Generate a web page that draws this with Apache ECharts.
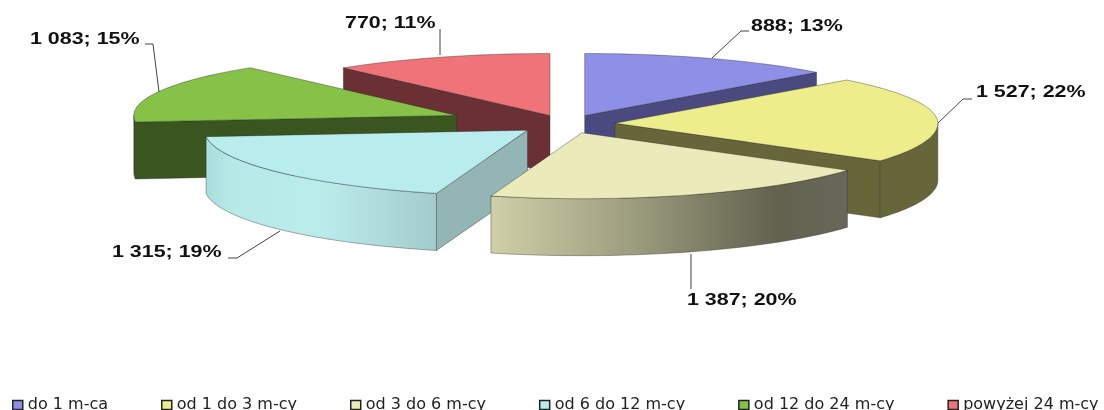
<!DOCTYPE html>
<html>
<head>
<meta charset="utf-8">
<script src="https://cdn.jsdelivr.net/npm/echarts@6/dist/echarts.min.js"></script>
<style>html,body{margin:0;padding:0;background:#fff}#c{width:1104px;height:410px}</style>
</head>
<body>
<div id="c"></div>
<script>
var categories = ['do 1 m-ca','od 1 do 3 m-cy','od 3 do 6 m-cy','od 6 do 12 m-cy','od 12 do 24 m-cy','powyżej 24 m-cy'];
var values = [888,1527,1387,1315,1083,770];
var percentLabels = ['13%','22%','20%','19%','15%','11%'];

var topColors = ['#8e90e8','#eded8c','#eaeabb','#b9ecec','#86c148','#f07379'];
var faceColors = ['#4a4a80','#66663a','#66663a','#93b5b5','#3b5520','#6a3033'];
var explode = [48,49,48,50,118,47];
var drawOrder = [5,0,4,1,3,2];
var labelLayout = [
  {x:751,y:26,line:[[712,58],[741,31],[749,31]]},
  {x:976,y:92,line:[[938,123],[963,99],[972,99]]},
  {x:687,y:300,line:[[691,254],[691,289]]},
  {x:112,y:252,line:[[280,231],[237,258],[228,258]]},
  {x:30,y:39,line:[[159,92],[153,44],[145,44]]},
  {x:345,y:23,line:[[440,55],[440,29]]}
];

var CX=566, CY=124, RX=323, RY_BACK=62, RY_FRONT=66, DEPTH=57, K=RY_BACK/RX, TEXT_SCALE=1.26;
var total = values.reduce(function(a,b){return a+b;},0);
var rad = Math.PI/180;
var starts = [], acc = 0;
values.forEach(function(v){ starts.push(acc); acc += v/total*360; });

function fmt(v){ return String(v).replace(/\B(?=(\d{3})+$)/g,' '); }
function apexOf(i,v){
  var mid = starts[i] + v/total*180;
  return [CX + explode[i]*Math.sin(mid*rad), CY - explode[i]*K*Math.cos(mid*rad)];
}
function pt(a,th,dy){
  var c = Math.cos(th*rad);
  return [a[0]+RX*Math.sin(th*rad), a[1]-(c>0?RY_BACK:RY_FRONT)*c+(dy||0)];
}
function arc(a,t1,t2,dy){
  var out=[], n=Math.max(2,Math.ceil(Math.abs(t2-t1)/2));
  for(var j=0;j<=n;j++) out.push(pt(a,t1+(t2-t1)*j/n,dy));
  return out;
}
function wallFill(i){
  if(i===2) return new echarts.graphic.LinearGradient(0,0,1,0,[
    {offset:0,color:'#cfcfa8'},{offset:0.35,color:'#a3a384'},{offset:0.8,color:'#62624f'},{offset:1,color:'#68685a'}]);
  if(i===3) return new echarts.graphic.LinearGradient(0,0,1,0,[
    {offset:0,color:'#a9dcdc'},{offset:0.12,color:'#b8e9e9'},{offset:0.5,color:'#bbecec'},{offset:1,color:'#a3cbcb'}]);
  return faceColors[i];
}
function renderSlice(params,api){
  var i = params.seriesIndex, v = api.value(0);
  var t1 = starts[i], t2 = t1 + v/total*360;
  var a = apexOf(i,v), kids = [];
  var edge = {stroke:'rgba(40,40,40,0.55)',lineWidth:0.7,lineJoin:'round'};
  function poly(points,fill){
    kids.push({type:'polygon',shape:{points:points},style:Object.assign({fill:fill},edge)});
  }
  function face(th){
    var p=pt(a,th);
    poly([a,p,[p[0],p[1]+DEPTH],[a[0],a[1]+DEPTH]],faceColors[i]);
  }
  if(Math.sin(t1*rad)<0) face(t1);
  if(Math.sin(t2*rad)>0.001) face(t2);
  var w1=Math.max(t1,90), w2=Math.min(t2,270);
  if(w2>w1) poly(arc(a,w1,w2,0).concat(arc(a,w2,w1,DEPTH)),wallFill(i));
  poly([a].concat(arc(a,t1,t2,0)),topColors[i]);
  var L = labelLayout[i];
  kids.push({type:'polyline',shape:{points:L.line},style:{fill:null,stroke:'#444',lineWidth:1}});
  kids.push({type:'text',x:L.x,y:L.y,scaleX:TEXT_SCALE,style:{
    text:fmt(v)+'; '+percentLabels[i],
    font:'bold 17px "Liberation Sans", Arial, sans-serif',
    fill:'#111',textAlign:'left',textVerticalAlign:'middle'}});
  return {type:'group',children:kids};
}
var chart = echarts.init(document.getElementById('c'),null,{renderer:'canvas'});
chart.setOption({
  animation:false,
  backgroundColor:'#fff',
  legend:{
    data:categories, left:12, top:397, padding:0, orient:'horizontal',
    itemWidth:10,itemHeight:9,itemGap:53,icon:'rect',
    itemStyle:{borderColor:'#222',borderWidth:1.5},
    textStyle:{fontFamily:'"DejaVu Sans", sans-serif',fontSize:16,color:'#222'},
    selectedMode:false
  },
  series:categories.map(function(name,i){
    return {
      type:'custom',name:name,coordinateSystem:'none',
      z:2+drawOrder.indexOf(i),
      itemStyle:{color:topColors[i]},
      data:[[values[i]]],
      renderItem:renderSlice,
      silent:true
    };
  })
});
</script>
</body>
</html>
